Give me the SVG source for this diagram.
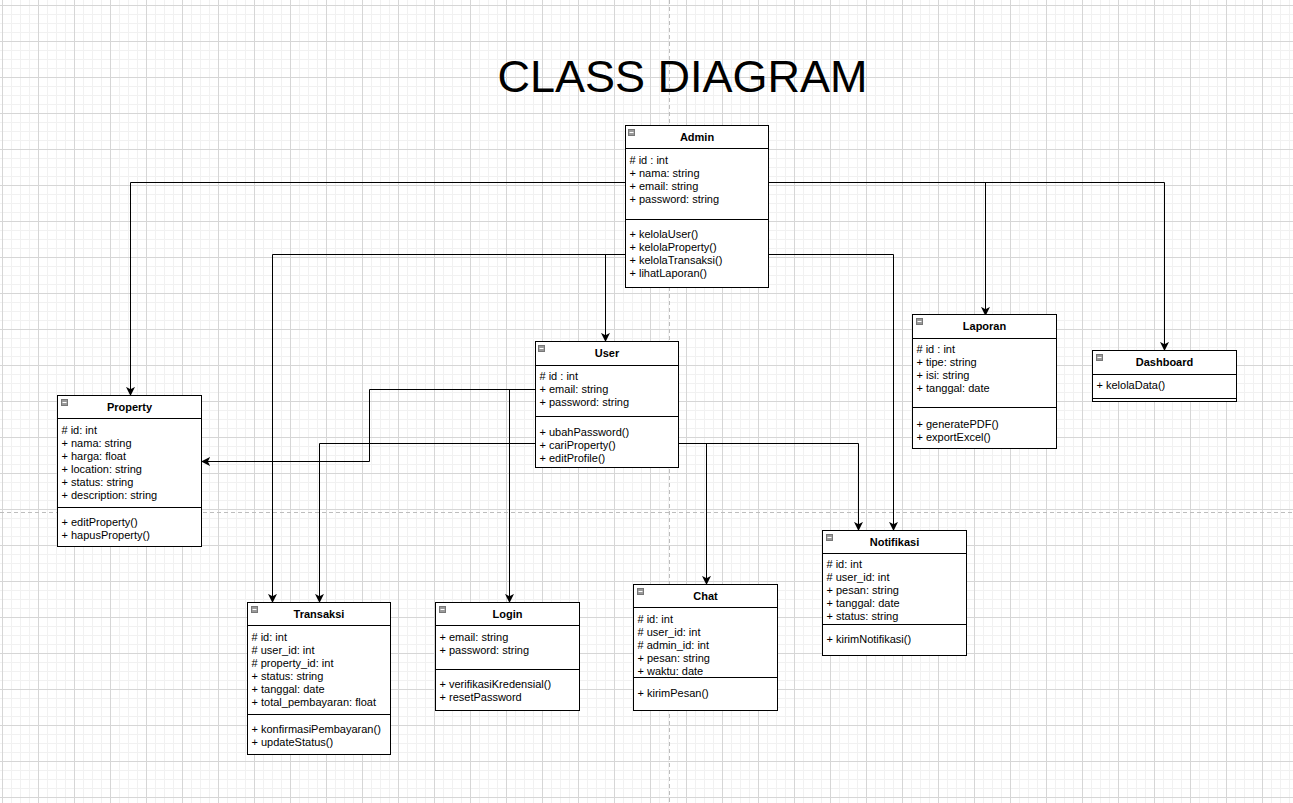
<svg xmlns="http://www.w3.org/2000/svg" width="1293" height="803" viewBox="0 0 1293 803">
  <defs>
    <pattern id="grid" x="2" y="5" width="36" height="36" patternUnits="userSpaceOnUse">
      <path d="M9.5 0V36M18.5 0V36M27.5 0V36M0 9.5H36M0 18.5H36M0 27.5H36" stroke="#f1f1f1" stroke-width="1" fill="none"/>
      <path d="M0.5 0V36M0 0.5H36" stroke="#d6d6d6" stroke-width="1" fill="none"/>
    </pattern>
    <marker id="arrow" viewBox="0 0 10 10" refX="9" refY="5" markerWidth="9" markerHeight="9" markerUnits="userSpaceOnUse" orient="auto">
      <path d="M0 0 L10 5 L0 10 L2.5 5 Z" fill="#000"/>
    </marker>
    <g id="icon">
      <rect x="0.5" y="0.5" width="6" height="6" fill="#9a9a9a" stroke="#777" stroke-width="1"/>
      <path d="M1.5 3.5H5.5" stroke="#fff" stroke-width="1"/>
    </g>
  </defs>
  <style>
    .box { fill: #fff; stroke: #000; stroke-width: 1; }
    .sep { stroke: #000; stroke-width: 1; fill: none; }
    .title { font-family: "Liberation Sans", Arial, sans-serif; font-size: 11px; font-weight: bold; text-anchor: middle; fill: #000; }
    .t { font-family: "Liberation Sans", Arial, sans-serif; font-size: 11px; fill: #000; }
    .edge { stroke: #000; stroke-width: 1; fill: none; marker-end: url(#arrow); }
    .page { stroke: #bdbdbd; stroke-width: 1; stroke-dasharray: 4 3; fill: none; }
  </style>

  <!-- canvas grid and page breaks -->
  <rect width="1293" height="803" fill="#fff"/>
  <rect width="1293" height="803" fill="url(#grid)"/>
  <path class="page" d="M669.5 0V803M0 512.5H1293"/>

  <text x="682.5" y="92" font-family="Liberation Sans, Arial, sans-serif" font-size="45" text-anchor="middle" fill="#000">CLASS DIAGRAM</text>

  <!-- associations -->
  <g id="connectors">
    <path class="edge" d="M625 182.5H130.5V395"/>
    <path class="edge" d="M768 182.5H985.5V315"/>
    <path class="edge" d="M768 182.5H1164.5V350"/>
    <path class="edge" d="M625 254.5H272.5V602"/>
    <path class="edge" d="M625 254.5H605.5V341"/>
    <path class="edge" d="M768 254.5H893.5V530"/>
    <path class="edge" d="M535 389.5H369.5V461.5H202"/>
    <path class="edge" d="M535 389.5H509.5V602"/>
    <path class="edge" d="M535 443.5H319.5V602"/>
    <path class="edge" d="M678 443.5H706.5V584"/>
    <path class="edge" d="M678 443.5H858.5V530"/>
  </g>

  <!-- Admin -->
  <g id="admin">
    <rect class="box" x="625.5" y="125.5" width="143" height="162"/>
    <path class="sep" d="M625.5 148.5H768.5M625.5 219.5H768.5"/>
    <use href="#icon" x="628" y="129"/>
    <text class="title" x="697" y="141">Admin</text>
    <text class="t" x="629.5" y="164">
      <tspan x="629.5" y="164"># id : int</tspan>
      <tspan x="629.5" y="177">+ nama: string</tspan>
      <tspan x="629.5" y="190">+ email: string</tspan>
      <tspan x="629.5" y="203">+ password: string</tspan>
    </text>
    <text class="t">
      <tspan x="629.5" y="238">+ kelolaUser()</tspan>
      <tspan x="629.5" y="251">+ kelolaProperty()</tspan>
      <tspan x="629.5" y="264">+ kelolaTransaksi()</tspan>
      <tspan x="629.5" y="277">+ lihatLaporan()</tspan>
    </text>
  </g>

  <!-- User -->
  <g id="user">
    <rect class="box" x="535.5" y="341.5" width="143" height="126"/>
    <path class="sep" d="M535.5 365.5H678.5M535.5 416.5H678.5"/>
    <use href="#icon" x="538" y="345"/>
    <text class="title" x="607" y="357">User</text>
    <text class="t">
      <tspan x="539.5" y="380"># id : int</tspan>
      <tspan x="539.5" y="393">+ email: string</tspan>
      <tspan x="539.5" y="406">+ password: string</tspan>
    </text>
    <text class="t">
      <tspan x="539.5" y="436">+ ubahPassword()</tspan>
      <tspan x="539.5" y="449">+ cariProperty()</tspan>
      <tspan x="539.5" y="462">+ editProfile()</tspan>
    </text>
  </g>

  <!-- Property -->
  <g id="property">
    <rect class="box" x="57.5" y="395.5" width="144" height="151"/>
    <path class="sep" d="M57.5 418.5H201.5M57.5 507.5H201.5"/>
    <use href="#icon" x="61" y="399"/>
    <text class="title" x="129.5" y="411">Property</text>
    <text class="t">
      <tspan x="61.5" y="434"># id: int</tspan>
      <tspan x="61.5" y="447">+ nama: string</tspan>
      <tspan x="61.5" y="460">+ harga: float</tspan>
      <tspan x="61.5" y="473">+ location: string</tspan>
      <tspan x="61.5" y="486">+ status: string</tspan>
      <tspan x="61.5" y="499">+ description: string</tspan>
    </text>
    <text class="t">
      <tspan x="61.5" y="526">+ editProperty()</tspan>
      <tspan x="61.5" y="539">+ hapusProperty()</tspan>
    </text>
  </g>

  <!-- Laporan -->
  <g id="laporan">
    <rect class="box" x="912.5" y="314.5" width="144" height="134"/>
    <path class="sep" d="M912.5 338.5H1056.5M912.5 407.5H1056.5"/>
    <use href="#icon" x="916" y="318"/>
    <text class="title" x="984.5" y="330">Laporan</text>
    <text class="t">
      <tspan x="916.5" y="353"># id : int</tspan>
      <tspan x="916.5" y="366">+ tipe: string</tspan>
      <tspan x="916.5" y="379">+ isi: string</tspan>
      <tspan x="916.5" y="392">+ tanggal: date</tspan>
    </text>
    <text class="t">
      <tspan x="916.5" y="428">+ generatePDF()</tspan>
      <tspan x="916.5" y="441">+ exportExcel()</tspan>
    </text>
  </g>

  <!-- Dashboard -->
  <g id="dashboard">
    <rect class="box" x="1092.5" y="350.5" width="144" height="51"/>
    <path class="sep" d="M1092.5 374.5H1236.5M1092.5 398.5H1236.5"/>
    <use href="#icon" x="1096" y="354"/>
    <text class="title" x="1164.5" y="366">Dashboard</text>
    <text class="t"><tspan x="1096.5" y="389">+ kelolaData()</tspan></text>
  </g>

  <!-- Transaksi -->
  <g id="transaksi">
    <rect class="box" x="247.5" y="602.5" width="143" height="152"/>
    <path class="sep" d="M247.5 625.5H390.5M247.5 714.5H390.5"/>
    <use href="#icon" x="251" y="606"/>
    <text class="title" x="319" y="618">Transaksi</text>
    <text class="t">
      <tspan x="251.5" y="641"># id: int</tspan>
      <tspan x="251.5" y="654"># user_id: int</tspan>
      <tspan x="251.5" y="667"># property_id: int</tspan>
      <tspan x="251.5" y="680">+ status: string</tspan>
      <tspan x="251.5" y="693">+ tanggal: date</tspan>
      <tspan x="251.5" y="706">+ total_pembayaran: float</tspan>
    </text>
    <text class="t">
      <tspan x="251.5" y="733">+ konfirmasiPembayaran()</tspan>
      <tspan x="251.5" y="746">+ updateStatus()</tspan>
    </text>
  </g>

  <!-- Login -->
  <g id="login">
    <rect class="box" x="435.5" y="602.5" width="144" height="108"/>
    <path class="sep" d="M435.5 625.5H579.5M435.5 669.5H579.5"/>
    <use href="#icon" x="439" y="606"/>
    <text class="title" x="507.5" y="618">Login</text>
    <text class="t">
      <tspan x="439.5" y="641">+ email: string</tspan>
      <tspan x="439.5" y="654">+ password: string</tspan>
    </text>
    <text class="t">
      <tspan x="439.5" y="688">+ verifikasiKredensial()</tspan>
      <tspan x="439.5" y="701">+ resetPassword</tspan>
    </text>
  </g>

  <!-- Chat -->
  <g id="chat">
    <rect class="box" x="633.5" y="584.5" width="144" height="126"/>
    <path class="sep" d="M633.5 607.5H777.5M633.5 677.5H777.5"/>
    <use href="#icon" x="637" y="588"/>
    <text class="title" x="705.5" y="600">Chat</text>
    <text class="t">
      <tspan x="637.5" y="623"># id: int</tspan>
      <tspan x="637.5" y="636"># user_id: int</tspan>
      <tspan x="637.5" y="649"># admin_id: int</tspan>
      <tspan x="637.5" y="662">+ pesan: string</tspan>
      <tspan x="637.5" y="675">+ waktu: date</tspan>
    </text>
    <text class="t"><tspan x="637.5" y="697">+ kirimPesan()</tspan></text>
  </g>

  <!-- Notifikasi -->
  <g id="notifikasi">
    <rect class="box" x="822.5" y="530.5" width="144" height="125"/>
    <path class="sep" d="M822.5 553.5H966.5M822.5 624.5H966.5"/>
    <use href="#icon" x="826" y="534"/>
    <text class="title" x="894.5" y="546">Notifikasi</text>
    <text class="t">
      <tspan x="826.5" y="568"># id: int</tspan>
      <tspan x="826.5" y="581"># user_id: int</tspan>
      <tspan x="826.5" y="594">+ pesan: string</tspan>
      <tspan x="826.5" y="607">+ tanggal: date</tspan>
      <tspan x="826.5" y="620">+ status: string</tspan>
    </text>
    <text class="t"><tspan x="826.5" y="643">+ kirimNotifikasi()</tspan></text>
  </g>
</svg>
